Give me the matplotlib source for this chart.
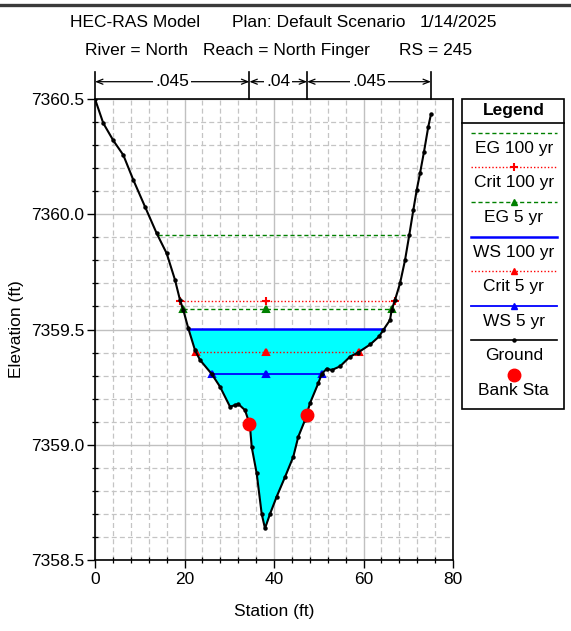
import matplotlib
matplotlib.use("Agg")
import matplotlib.pyplot as plt
from matplotlib.lines import Line2D
from matplotlib.patches import Rectangle
from matplotlib.ticker import MultipleLocator, FormatStrFormatter

plt.rcParams['font.family'] = ['Liberation Sans', 'DejaVu Sans']

W, H, DPI = 571, 631, 100

# Ground profile (station ft, elevation ft)
station = [0.0, 1.85, 4.09, 6.32, 8.56, 11.17, 13.79, 16.02, 17.88, 18.99,
           19.73, 20.85, 22.35, 23.46, 26.08, 27.93, 30.17, 31.28, 32.02, 33.52,
           34.26, 34.64, 35.02, 36.13, 37.25, 37.99, 39.11, 40.60, 42.46, 44.31,
           45.43, 46.93, 48.04, 49.90, 50.66, 51.78, 52.89, 54.75, 56.98, 58.77,
           61.50, 63.50, 64.43, 65.92, 66.30, 67.04, 68.16, 69.27, 70.23, 71.13,
           71.89, 72.63, 73.52, 74.48, 75.08]
elevation = [7360.50, 7360.395, 7360.32, 7360.257, 7360.149, 7360.033, 7359.917, 7359.83, 7359.715, 7359.628,
             7359.585, 7359.505, 7359.41, 7359.368, 7359.307, 7359.252, 7359.165, 7359.172, 7359.177, 7359.15,
             7359.107, 7359.078, 7358.99, 7358.876, 7358.70, 7358.637, 7358.70, 7358.775, 7358.86, 7358.948,
             7359.035, 7359.107, 7359.18, 7359.267, 7359.307, 7359.33, 7359.324, 7359.34, 7359.382, 7359.40,
             7359.435, 7359.47, 7359.498, 7359.541, 7359.585, 7359.628, 7359.70, 7359.80, 7359.91, 7360.018,
             7360.105, 7360.178, 7360.271, 7360.38, 7360.434]

bank_station = [34.5, 47.4]
bank_elevation = [7359.09, 7359.13]

# Manning's n regions between ground ends and bank stations
n_values = [".045", ".04", ".045"]

# Computed water surfaces
eg_100 = 7359.91
crit_100 = 7359.625
eg_5 = 7359.588
ws_100 = 7359.503
crit_5 = 7359.404
ws_5 = 7359.308
marker_station = 38.2

title_line1 = ["HEC-RAS Model", "Plan: Default Scenario", "1/14/2025"]
title_line2 = ["River = North", "Reach = North Finger", "RS = 245"]
legend_labels = ["EG 100 yr", "Crit 100 yr", "EG 5 yr", "WS 100 yr",
                 "Crit 5 yr", "WS 5 yr", "Ground", "Bank Sta"]


def crossings(level):
    """Stations where a horizontal level meets the ground, searched outward from the thalweg."""
    imin = elevation.index(min(elevation))
    left = right = None
    for i in range(imin, 0, -1):
        e0, e1 = elevation[i], elevation[i - 1]
        if e0 <= level <= e1:
            left = station[i] + (level - e0) / (e1 - e0) * (station[i - 1] - station[i])
            break
    for i in range(imin, len(station) - 1):
        e0, e1 = elevation[i], elevation[i + 1]
        if e0 <= level <= e1:
            right = station[i] + (level - e0) / (e1 - e0) * (station[i + 1] - station[i])
            break
    return left, right


fig = plt.figure(figsize=(W / DPI, H / DPI), dpi=DPI)
fig.patch.set_facecolor('white')

def fx(px):
    return px / W

def fy(py):
    return 1 - py / H

ax = fig.add_axes([fx(95), fy(560), (453 - 95) / W, (560 - 99) / H])
ax.set_xlim(0, 80)
ax.set_ylim(7358.5, 7360.5)

# grid
ax.xaxis.set_major_locator(MultipleLocator(20))
ax.xaxis.set_minor_locator(MultipleLocator(4))
ax.yaxis.set_major_locator(MultipleLocator(0.5))
ax.yaxis.set_minor_locator(MultipleLocator(0.1))
ax.yaxis.set_major_formatter(FormatStrFormatter('%.1f'))
ax.grid(which='major', color='#c0c0c0', lw=1.0, ls='-', zorder=0)
ax.grid(which='minor', color='#c4c4c4', lw=0.9, ls=(0, (4, 2.5)), zorder=0)
ax.set_axisbelow(True)
ax.tick_params(which='major', direction='out', length=5.5, width=1, labelsize=12.5, colors='black')
ax.tick_params(which='minor', direction='inout', length=5, width=0.9)
ax.tick_params(axis='y', which='major', pad=2)
ax.tick_params(axis='x', which='major', pad=3)
for s in ax.spines.values():
    s.set_linewidth(1.2)

# filled water area for the 100 yr profile
l100, r100 = crossings(ws_100)
fx_pts = [l100] + [s for s in station if l100 < s < r100] + [r100]
fy_pts = [ws_100] + [e for s, e in zip(station, elevation) if l100 < s < r100] + [ws_100]
ax.fill_between(fx_pts, fy_pts, ws_100, color='#00ffff', lw=0, zorder=1)

# water surface / energy lines
def level_line(level, color, ls, lw, marker=None, ms=5):
    a, b = crossings(level)
    ax.plot([a, b], [level, level], color=color, ls=ls, lw=lw, zorder=3)
    if marker:
        ax.plot([a, marker_station, b], [level] * 3, ls='none', marker=marker,
                color=color, ms=ms, mew=1.5, zorder=4)

level_line(eg_100, '#008000', (0, (3, 2)), 1.0)
level_line(crit_100, '#ff0000', (0, (1, 1.5)), 1.0, marker='+', ms=6)
level_line(eg_5, '#008000', (0, (3, 2)), 1.0, marker='^', ms=5)
level_line(ws_100, '#0000ff', '-', 1.8)
level_line(crit_5, '#ff0000', (0, (1, 1.5)), 1.0, marker='^', ms=5)
level_line(ws_5, '#0000ff', '-', 1.3, marker='^', ms=5)

# ground
ax.plot(station, elevation, color='black', lw=1.5, marker='o', ms=2.2, zorder=5)
ax.plot(bank_station, bank_elevation, ls='none', marker='o', color='#ff0000', ms=9, zorder=6)

ax.set_xlabel('Station (ft)', fontsize=12.5)
ax.set_ylabel('Elevation (ft)', fontsize=12.5)
ax.xaxis.set_label_coords(0.5, -(604 - 560) / 461)
ax.yaxis.set_label_coords(-(95 - 24) / 358, 0.5)

# Manning's n bands above the plot
bounds = [station[0], bank_station[0], bank_station[1], station[-1]]
y_arrow = 1 + (99 - 81.7) / 461
y_top = 1 + (99 - 72) / 461
for b in bounds:
    ax.plot([b, b], [1.0, y_top], color='black', lw=1.2,
            transform=ax.get_xaxis_transform(), clip_on=False)
for i, n in enumerate(n_values):
    a, b = bounds[i], bounds[i + 1]
    ax.annotate('', xy=(b, y_arrow), xytext=(a, y_arrow), xycoords=ax.get_xaxis_transform(),
                textcoords=ax.get_xaxis_transform(),
                arrowprops=dict(arrowstyle='<->,head_length=0.45,head_width=0.18',
                                color='black', lw=0.9, shrinkA=0, shrinkB=0))
    ax.text((a + b) / 2, y_arrow, n, transform=ax.get_xaxis_transform(), ha='center',
            va='center', fontsize=12.5,
            bbox=dict(facecolor='white', edgecolor='none', pad=1.5))

# headings
for txt, px in zip(title_line1, [70, 232, 420]):
    fig.text(fx(px), fy(22.5), txt, ha='left', va='center', fontsize=12.5)
for txt, px in zip(title_line2, [85, 203, 399]):
    fig.text(fx(px), fy(50.5), txt, ha='left', va='center', fontsize=12.5)

# rule along the top edge
fig.add_artist(Line2D([0, 1], [fy(5), fy(5)], color='#3a3a3a', lw=2.4,
                      transform=fig.transFigure))

# legend panel
lg = fig.add_axes([fx(462), fy(409.5), (565 - 462) / W, (409.5 - 98) / H])
lg.set_xlim(462, 565)
lg.set_ylim(409.5, 98)
lg.axis('off')
lg.add_patch(Rectangle((462.5, 98.5), 102, 310.5, fill=False, edgecolor='black', lw=1.2,
                       clip_on=False))
lg.plot([462.5, 564.5], [122.7, 122.7], color='black', lw=1.2, clip_on=False)
lg.text(513.7, 110.3, 'Legend', ha='center', va='center', fontsize=12.5, fontweight='bold')

styles = [
    dict(color='#008000', ls=(0, (3, 2)), lw=1.0, marker=None),
    dict(color='#ff0000', ls=(0, (1, 1.5)), lw=1.0, marker='+', ms=6, mew=1.5),
    dict(color='#008000', ls=(0, (3, 2)), lw=1.0, marker='^', ms=5),
    dict(color='#0000ff', ls='-', lw=1.8, marker=None),
    dict(color='#ff0000', ls=(0, (1, 1.5)), lw=1.0, marker='^', ms=5),
    dict(color='#0000ff', ls='-', lw=1.3, marker='^', ms=5),
    dict(color='black', ls='-', lw=1.2, marker='o', ms=2.2),
    dict(color='#ff0000', ls='none', lw=0, marker='o', ms=9),
]
y0, dy = 132.7, 34.6
for k, (lab, st) in enumerate(zip(legend_labels, styles)):
    yl = y0 + k * dy
    st = dict(st)
    mk = st.pop('marker')
    ms = st.pop('ms', 5)
    mew = st.pop('mew', 1)
    if st['ls'] != 'none':
        lg.plot([470.7, 556.7], [yl, yl], **st)
    if mk:
        lg.plot([513.7], [yl], marker=mk, ms=ms, mew=mew, color=st['color'], ls='none')
    lg.text(513.7, yl + 15.5, lab, ha='center', va='center', fontsize=12.5)

fig.savefig('out.png', dpi=DPI, facecolor='white')
